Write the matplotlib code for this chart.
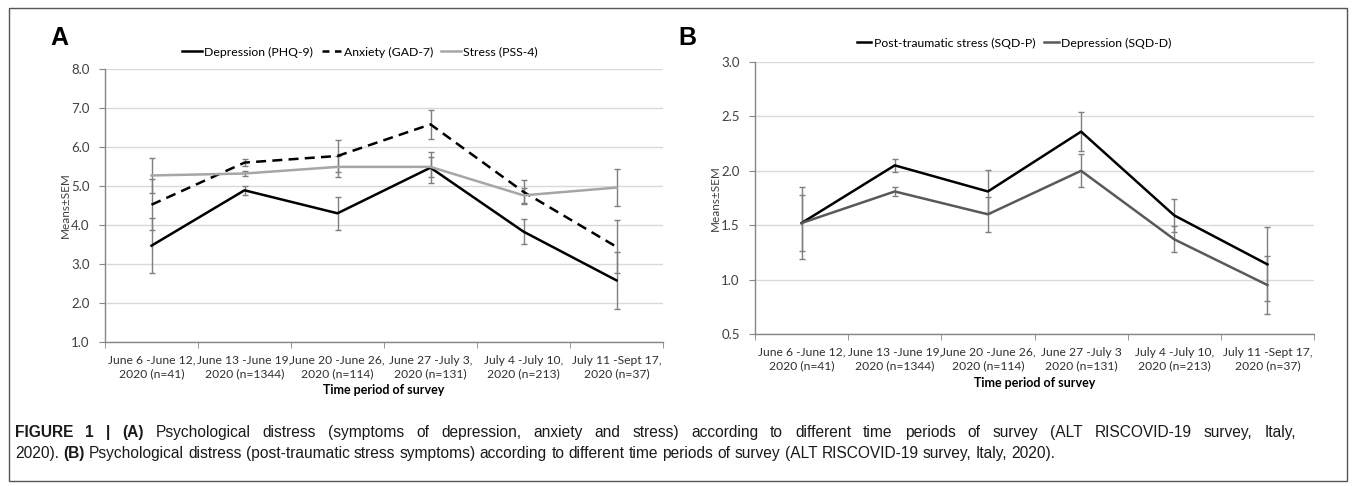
import matplotlib
matplotlib.use("Agg")
import matplotlib.pyplot as plt
import matplotlib.patches as patches
from matplotlib.lines import Line2D
import numpy as np

plt.rcParams['font.family'] = ['Lato', 'DejaVu Sans']

periods = ["June 6 -June 12,\n2020 (n=41)", "June 13 -June 19,\n2020 (n=1344)",
           "June 20 -June 26,\n2020 (n=114)", "June 27 -July 3,\n2020 (n=131)",
           "July 4 -July 10,\n2020 (n=213)", "July 11 -Sept 17,\n2020 (n=37)"]
periods_b = ["June 6 -June 12,\n2020 (n=41)", "June 13 -June 19,\n2020 (n=1344)",
             "June 20 -June 26,\n2020 (n=114)", "June 27 -July 3\n2020 (n=131)",
             "July 4 -July 10,\n2020 (n=213)", "July 11 -Sept 17,\n2020 (n=37)"]

# panel A
phq9 = [3.47, 4.89, 4.30, 5.47, 3.83, 2.58]
phq9_sem = [0.70, 0.12, 0.43, 0.40, 0.32, 0.74]
gad7 = [4.52, 5.60, 5.77, 6.58, 4.85, 3.44]
gad7_sem = [0.66, 0.10, 0.40, 0.37, 0.30, 0.68]
pss4 = [5.27, 5.32, 5.49, 5.49, 4.76, 4.96]
pss4_sem = [0.45, 0.07, 0.27, 0.25, 0.20, 0.47]

# panel B
sqd_p = [1.52, 2.05, 1.81, 2.36, 1.59, 1.14]
sqd_p_sem = [0.33, 0.06, 0.20, 0.18, 0.15, 0.34]
sqd_d = [1.52, 1.81, 1.60, 2.00, 1.37, 0.95]
sqd_d_sem = [0.26, 0.04, 0.16, 0.15, 0.12, 0.27]

W, H = 1355, 486
fig = plt.figure(figsize=(W / 100, H / 100), dpi=100)


def px_axes(l, t, r, b):
    return fig.add_axes([l / W, (H - b) / H, (r - l) / W, (b - t) / H])


def style_axes(ax, ylim, yticks, labels, xlabelpad):
    x = np.arange(6)
    ax.set_xlim(-0.5, 5.5)
    ax.set_ylim(*ylim)
    ax.set_yticks(yticks)
    ax.set_yticklabels([f"{v:.1f}" for v in yticks], fontsize=9.5, color='#404040')
    ax.set_xticks(x)
    ax.set_xticklabels(labels, fontsize=8.7, color='#303030', linespacing=1.35)
    ax.set_xticks(np.arange(-0.5, 6, 1), minor=True)
    ax.tick_params(axis='x', which='major', length=0, pad=9)
    ax.tick_params(axis='x', which='minor', length=4, color='#868686', direction='out')
    ax.tick_params(axis='y', length=4, color='#868686', direction='out', pad=7)
    ax.grid(axis='y', color='#d9d9d9', lw=1)
    ax.set_axisbelow(True)
    for s in ['top', 'right']:
        ax.spines[s].set_visible(False)
    for s in ['left', 'bottom']:
        ax.spines[s].set_color('#868686')
        ax.spines[s].set_linewidth(1)
    ax.set_xlabel("Time period of survey", fontsize=9, fontweight='bold', labelpad=xlabelpad)
    ax.set_ylabel("Means±SEM", fontsize=8.5, color='#404040', labelpad=0)


x = np.arange(6)
err_kw = dict(ecolor='#7f7f7f', elinewidth=1, capsize=2.5, capthick=1)

axA = px_axes(105, 69, 663, 342)
axA.errorbar(x, phq9, yerr=phq9_sem, color='black', lw=1.8, label='Depression (PHQ-9)', **err_kw)
axA.errorbar(x, gad7, yerr=gad7_sem, color='black', lw=1.8, ls=(0, (4, 2.5)), label='Anxiety (GAD-7)', **err_kw)
axA.errorbar(x, pss4, yerr=pss4_sem, color='#a6a6a6', lw=1.8, label='Stress (PSS-4)', **err_kw)
style_axes(axA, (1, 8), np.arange(1, 8.5, 1), periods, 3)
hA, lA = axA.get_legend_handles_labels()
legA_handles = [hA[0][0],
                Line2D([], [], color='black', lw=1.8, ls=(0, (2.78, 2.22))),
                hA[2][0]]
fig.legend(legA_handles, lA, loc='center', bbox_to_anchor=(360 / W, (H - 52) / H), ncol=3,
           frameon=False, fontsize=8.8, handlelength=1.6, handletextpad=0.2, columnspacing=0.7)

axB = px_axes(755, 62, 1314, 334)
axB.errorbar(x, sqd_p, yerr=sqd_p_sem, color='black', lw=1.8, label='Post-traumatic stress (SQD-P)', **err_kw)
axB.errorbar(x, sqd_d, yerr=sqd_d_sem, color='#595959', lw=1.8, label='Depression (SQD-D)', **err_kw)
style_axes(axB, (0.5, 3.0), np.arange(0.5, 3.01, 0.5), periods_b, 4)
hB, lB = axB.get_legend_handles_labels()
fig.legend([h[0] for h in hB], lB, loc='center', bbox_to_anchor=(1014 / W, (H - 43) / H), ncol=2,
           frameon=False, fontsize=8.8, handlelength=1.2, handletextpad=0.2, columnspacing=0.7)

fig.text(50 / W, (H - 26) / H, "A", fontsize=18, fontweight='bold', va='top', family='Liberation Sans')
fig.text(678 / W, (H - 26) / H, "B", fontsize=18, fontweight='bold', va='top', family='Liberation Sans')

fig.add_artist(patches.Rectangle((9 / W, (H - 481) / H), (1347 - 9) / W, (481 - 8) / H,
                                 transform=fig.transFigure, fill=False, edgecolor='#555555', lw=1))

# caption: first line justified, second line natural width
renderer = fig.canvas.get_renderer()
cap_kw = dict(fontsize=11.2, va='center', color='#1a1a1a', family='Liberation Sans')


def caption_line(pieces, x0, y, x1=None):
    words = []
    for txt, bold in pieces:
        for w in txt.split():
            words.append((w, bold))
    arts = []
    for w, bold in words:
        t = fig.text(0, (H - y) / H, w, fontweight='bold' if bold else 'normal', **cap_kw)
        arts.append((t, t.get_window_extent(renderer).width))
    probe2 = fig.text(0, 0, "a a", **cap_kw)
    probe1 = fig.text(0, 0, "a", **cap_kw)
    sw = probe2.get_window_extent(renderer).width - 2 * probe1.get_window_extent(renderer).width
    probe2.remove()
    probe1.remove()
    total = sum(wd for _, wd in arts)
    gap = sw if x1 is None else (x1 - x0 - total) / (len(arts) - 1)
    xp = x0
    for t, wd in arts:
        t.set_x(xp / W)
        xp += wd + gap


caption_line([("FIGURE 1 | (A)", True),
              ("Psychological distress (symptoms of depression, anxiety and stress) according to different "
               "time periods of survey (ALT RISCOVID-19 survey, Italy,", False)], 15, 432, 1296)
caption_line([("2020).", False), ("(B)", True),
              ("Psychological distress (post-traumatic stress symptoms) according to different time periods "
               "of survey (ALT RISCOVID-19 survey, Italy, 2020).", False)], 15, 453)

fig.savefig("out.png", dpi=100)
